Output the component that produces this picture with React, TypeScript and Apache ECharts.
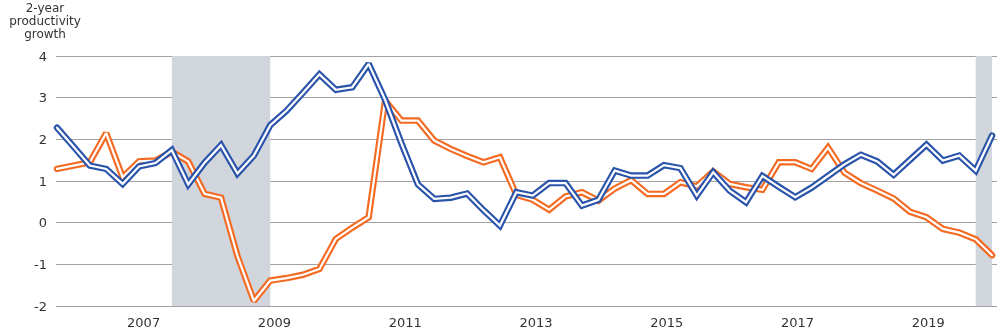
import React, { useEffect, useRef } from "react";
import * as echarts from "echarts";

// Quarterly observations, 2006Q1 .. 2020Q2
const years = [2006, 2007, 2008, 2009, 2010, 2011, 2012, 2013, 2014, 2015, 2016, 2017, 2018, 2019, 2020];
const quarters: string[] = [];
years.forEach((y) => {
  for (let q = 1; q <= 4; q++) {
    if (y === 2020 && q > 2) break;
    quarters.push(`${y}Q${q}`);
  }
});

const orangeSeries = [
  1.29, 1.37, 1.45, 2.15, 1.09, 1.47, 1.49, 1.7, 1.47, 0.69,
  0.6, -0.8, -1.88, -1.39, -1.33, -1.25, -1.11, -0.39, -0.12, 0.13,
  2.93, 2.45, 2.45, 1.97, 1.77, 1.6, 1.45, 1.57, 0.67, 0.55,
  0.31, 0.63, 0.73, 0.53, 0.82, 1.02, 0.69, 0.69, 0.97, 0.87,
  1.23, 0.93, 0.85, 0.79, 1.45, 1.45, 1.29, 1.8, 1.2, 0.95,
  0.77, 0.58, 0.26, 0.13, -0.15, -0.24, -0.4, -0.78,
];

const blueSeries = [
  2.28, 1.83, 1.37, 1.29, 0.93, 1.35, 1.43, 1.74, 0.92, 1.44,
  1.86, 1.18, 1.61, 2.34, 2.69, 3.12, 3.56, 3.19, 3.25, 3.81,
  2.95, 1.9, 0.92, 0.57, 0.6, 0.7, 0.3, -0.07, 0.73, 0.65,
  0.95, 0.95, 0.41, 0.55, 1.25, 1.13, 1.13, 1.38, 1.31, 0.65,
  1.21, 0.77, 0.49, 1.12, 0.86, 0.61, 0.84, 1.12, 1.4, 1.63,
  1.47, 1.15, 1.51, 1.87, 1.49, 1.61, 1.25, 2.09,
];

// Recession periods (first and last quarter)
const recessions: [string, string][] = [
  ["2007Q4", "2009Q2"],
  ["2020Q1", "2020Q2"],
];

// Year tick labels shown along the bottom
const yearLabels = [2007, 2009, 2011, 2013, 2015, 2017, 2019];
const LABEL_BASE_YEAR = 2005;

const yTitle = "2-year\nproductivity\ngrowth";

const ORANGE = "#f36a22";
const BLUE = "#2a54aa";
const SHADE = "#d1d5dc";
const FONT = "DejaVu Sans";

export default function App() {
  const ref = useRef<HTMLDivElement>(null);

  useEffect(() => {
    document.body.style.margin = "0";
    if (!ref.current) return;
    const chart = echarts.init(ref.current, undefined, { renderer: "svg" });

    const orangeData = orangeSeries.map((v, i) => [i, v]);
    const blueData = blueSeries.map((v, i) => [i, v]);

    const lineSeries = (data: number[][], color: string, width: number, z: number) => ({
      type: "line",
      data,
      xAxisIndex: 0,
      yAxisIndex: 0,
      showSymbol: false,
      symbol: "none",
      silent: true,
      z,
      lineStyle: { color, width, cap: "round", join: "miter", miterLimit: 2 },
    });

    const option: any = {
      animation: false,
      grid: { left: 56, right: 3, top: 56, bottom: 30, containLabel: false },
      graphic: [
        {
          type: "text",
          x: 45,
          y: 1,
          style: {
            text: yTitle,
            align: "center",
            textAlign: "center",
            verticalAlign: "top",
            textVerticalAlign: "top",
            font: `12px "${FONT}"`,
            fontSize: 12,
            fontFamily: FONT,
            lineHeight: 13,
            fill: "#333333",
          },
        },
      ],
      xAxis: [
        {
          type: "value",
          min: -0.06,
          max: 57.3,
          show: false,
        },
        {
          type: "value",
          position: "bottom",
          min: 0.66,
          max: 15.05,
          splitNumber: 7,
          axisLine: { show: false },
          axisTick: { show: false },
          splitLine: { show: false },
          axisLabel: {
            showMinLabel: false,
            showMaxLabel: false,
            margin: 10,
            fontSize: 13,
            fontFamily: FONT,
            color: "#333333",
            formatter: (v: number) => {
              const y = Math.round(v) + LABEL_BASE_YEAR;
              return Math.abs(v - Math.round(v)) < 1e-6 && yearLabels.includes(y) ? String(y) : "";
            },
          },
        },
      ],
      yAxis: {
        type: "value",
        min: -2,
        max: 4,
        interval: 1,
        z: 1,
        axisLine: { show: false },
        axisTick: { show: false },
        axisLabel: { margin: 9, fontSize: 13, fontFamily: FONT, color: "#333333" },
        splitLine: { lineStyle: { color: "#a2a2a2", width: 1 } },
      },
      series: [
        {
          type: "line",
          data: orangeData,
          xAxisIndex: 0,
          yAxisIndex: 0,
          showSymbol: false,
          symbol: "none",
          silent: true,
          z: 0,
          lineStyle: { opacity: 0, width: 0 },
          markArea: {
            silent: true,
            itemStyle: { color: SHADE },
            data: recessions.map(([a, b]) => [
              { xAxis: quarters.indexOf(a) },
              { xAxis: quarters.indexOf(b) },
            ]),
          },
        },
        lineSeries(orangeData, ORANGE, 6.5, 2),
        lineSeries(orangeData, "#ffffff", 2.2, 3),
        lineSeries(blueData, BLUE, 6.5, 4),
        lineSeries(blueData, "#ffffff", 2.2, 5),
      ],
    };

    chart.setOption(option);
    return () => chart.dispose();
  }, []);

  return (
    <div
      ref={ref}
      style={{ width: 1000, height: 336, position: "fixed", left: 0, top: 0 }}
    />
  );
}
